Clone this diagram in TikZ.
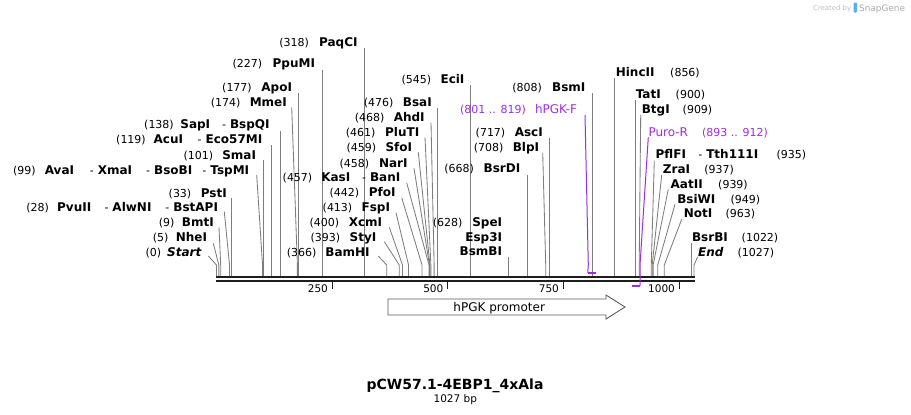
\documentclass[tikz,border=0pt]{standalone}
\usepackage{fontspec}
\setmainfont{DejaVu Sans}
\definecolor{linegray}{RGB}{125,125,125}
\definecolor{barc}{RGB}{30,30,30}
\definecolor{primer}{RGB}{160,40,240}
\definecolor{wmgray}{RGB}{190,190,190}
\definecolor{wmblue}{RGB}{90,175,235}
\newcommand{\hyn}[1]{-\hspace{4pt}{\fontsize{12}{14}\selectfont\bfseries #1}}
% slanted cut line: name, attach x, attach y, position
\newcommand{\slcut}[4]{%
  \coordinate (#1a) at (#2,#3);
  \coordinate (#1k) at ({216.5+0.465*#4},265);
  \coordinate (#1s) at ({216.5+0.465*#4},276);
  \draw[cutline] (#1a) -- (#1k) -- (#1s);}
% vertical cut line: name, attach y, position
\newcommand{\vtcut}[3]{%
  \coordinate (#1a) at ({216.5+0.465*#3},#2);
  \coordinate (#1s) at ({216.5+0.465*#3},276);
  \draw[cutline] (#1a) -- (#1s);}
\begin{document}
\begin{tikzpicture}[x=1pt,y=-1pt,
  num/.style={font=\fontsize{11}{13}\selectfont, anchor=base, inner sep=0pt},
  nm/.style={font=\fontsize{12}{14}\selectfont\bfseries, anchor=base, inner sep=0pt},
  nmi/.style={font=\fontsize{12}{14}\selectfont\bfseries\itshape, anchor=base, inner sep=0pt},
  prm/.style={font=\fontsize{12}{14}\selectfont, text=primer, anchor=base, inner sep=0pt},
  prmnum/.style={font=\fontsize{11}{13}\selectfont, text=primer, anchor=base, inner sep=0pt},
  ticklbl/.style={font=\fontsize{10.5}{12}\selectfont, anchor=base, inner sep=0pt},
  cutline/.style={draw=linegray, line width=0.85pt},
  primerline/.style={draw=primer, line width=1pt},
  barline/.style={draw=barc, line width=2pt},
]
\useasboundingbox (0,0) rectangle (911,415);

% ---------- cut site lines ----------
\slcut{c0}{208.3}{256}{0}
\slcut{c5}{213.3}{243.3}{5}
\slcut{c9}{219}{227.3}{9}
\slcut{c28}{224.3}{211.7}{28}
\vtcut{c33}{198.3}{33}
\slcut{c99}{256.7}{175}{99}
\vtcut{c101}{160}{101}
\vtcut{c119}{145}{119}
\vtcut{c138}{130.7}{138}
\slcut{c174}{291.7}{107.3}{174}
\vtcut{c177}{93.3}{177}
\vtcut{c227}{70}{227}
\vtcut{c318}{48.3}{318}
\slcut{c366}{378.3}{256}{366}
\slcut{c393}{384.3}{241.7}{393}
\slcut{c400}{389.3}{227.3}{400}
\slcut{c413}{396}{212.7}{413}
\slcut{c442}{401.7}{197.7}{442}
\slcut{c457}{406.7}{182.7}{457}
\slcut{c458}{414}{168.3}{458}
\slcut{c459}{418.3}{152.3}{459}
\slcut{c461}{425}{137.3}{461}
\slcut{c468}{431}{122.7}{468}
\vtcut{c476}{108.3}{476}
\vtcut{c545}{85}{545}
\vtcut{c628}{257.3}{628}
\vtcut{c668}{175}{668}
\slcut{c708}{542.7}{152.7}{708}
\vtcut{c717}{138.3}{717}
\vtcut{c808}{93.3}{808}
\vtcut{c856}{78.3}{856}
\vtcut{c900}{100}{900}
\slcut{c909}{640.7}{115}{909}
\slcut{c935}{654.3}{160.7}{935}
\slcut{c937}{661.7}{175}{937}
\slcut{c939}{668.3}{189.3}{939}
\slcut{c949}{675}{204.3}{949}
\slcut{c963}{681.7}{219.3}{963}
\vtcut{c1022}{243.3}{1022}
\slcut{c1027}{697.7}{256.7}{1027}

% ---------- sequence bar ----------
\coordinate (barL1) at (216,276.7);
\coordinate (barR1) at (695,276.7);
\coordinate (barL2) at (216,281.3);
\coordinate (barR2) at (695,281.3);
\draw[barline] (barL1) -- (barR1);
\draw[barline] (barL2) -- (barR2);

% ticks
\foreach \tx/\tl [count=\i] in {332.3/250, 447.7/500, 563.3/750, 679.3/1000}{
  \coordinate (tk\i a) at (\tx,282.3);
  \coordinate (tk\i b) at (\tx,288.5);
  \draw[draw=barc, line width=1.5pt] (tk\i a) -- (tk\i b);
  \node[ticklbl, anchor=base east] (tl\i) at (\tx-4.2,292.7) {\tl};
}

% ---------- primers ----------
\coordinate (pfA) at (585,115);
\coordinate (pfK) at (588.3,265);
\coordinate (pfM1) at (587.7,272.7);
\coordinate (pfM2) at (596,272.7);
\draw[primerline] (pfA) -- (pfK) -- (pfM1);
\draw[draw=primer, line width=2pt] (pfM1) -- (pfM2);

\coordinate (prA) at (648.3,137.3);
\coordinate (prK) at (640,265);
\coordinate (prM1) at (640,285.7);
\coordinate (prM2) at (631.7,285.7);
\draw[primerline] (prA) -- (prK) -- (prM1);
\draw[draw=primer, line width=2pt] (prM1) -- (prM2);

% ---------- feature ----------
\draw[draw=black!65, fill=white, line width=0.9pt]
  (388,299) -- (606,299) -- (606,295) -- (625,307) -- (606,319) -- (606,315) -- (388,315) -- cycle;
\node[font=\fontsize{12}{14}\selectfont, anchor=base, inner sep=0pt] (feat) at (499.2,311) {hPGK promoter};

% ---------- left labels ----------
\node[num] (l0a) at (153.3,256) {(0)};
\node[nmi] (l0b) at (184.3,256) {Start};
\node[num] (l5a) at (160.7,241.6) {(5)};
\node[nm] (l5b) at (191.5,241.6) {NheI};
\node[num] (l9a) at (166.7,226) {(9)};
\node[nm] (l9b) at (197.8,226) {BmtI};
\node[num] (l28a) at (37.7,211) {(28)};
\node[nm] (l28b) at (74.2,211) {PvuII};
\node[num] (l28c) at (128,211) {\hyn{AlwNI}};
\node[num] (l28d) at (191.7,211) {\hyn{BstAPI}};
\node[num] (l33a) at (180,197) {(33)};
\node[nm] (l33b) at (213.8,197) {PstI};
\node[num] (l99a) at (24.3,174.3) {(99)};
\node[nm] (l99b) at (59.5,174.3) {AvaI};
\node[num] (l99c) at (111,174.3) {\hyn{XmaI}};
\node[num] (l99d) at (169.2,174.3) {\hyn{BsoBI}};
\node[num] (l99e) at (225.8,174.3) {\hyn{TspMI}};
\node[num] (l101a) at (198.3,159.3) {(101)};
\node[nm] (l101b) at (239.2,159.3) {SmaI};
\node[num] (l119a) at (131,143.3) {(119)};
\node[nm] (l119b) at (168.3,143.3) {AcuI};
\node[num] (l119c) at (230,143.3) {\hyn{Eco57MI}};
\node[num] (l138a) at (159,128.6) {(138)};
\node[nm] (l138b) at (195.3,128.6) {SapI};
\node[num] (l138c) at (245.8,128.6) {\hyn{BspQI}};
\node[num] (l174a) at (225.7,106) {(174)};
\node[nm] (l174b) at (268.3,106) {MmeI};
\node[num] (l177a) at (237,91.6) {(177)};
\node[nm] (l177b) at (276.7,91.6) {ApoI};
\node[num] (l227a) at (247.3,67.6) {(227)};
\node[nm] (l227b) at (293.8,67.6) {PpuMI};
\node[num] (l318a) at (294.2,46.6) {(318)};
\node[nm] (l318b) at (338.3,46.6) {PaqCI};

% ---------- middle labels ----------
\node[num] (l366a) at (301.7,256) {(366)};
\node[nm] (l366b) at (347.5,256) {BamHI};
\node[num] (l393a) at (325.3,241) {(393)};
\node[nm] (l393b) at (363,241) {StyI};
\node[num] (l400a) at (324.3,226) {(400)};
\node[nm] (l400b) at (365.5,226) {XcmI};
\node[num] (l413a) at (337.5,211) {(413)};
\node[nm] (l413b) at (375.8,211) {FspI};
\node[num] (l442a) at (344.3,196.6) {(442)};
\node[nm] (l442b) at (382.2,196.6) {PfoI};
\node[num] (l457a) at (297.5,181.6) {(457)};
\node[nm] (l457b) at (335.8,181.6) {KasI};
\node[num] (l457c) at (381.2,181.6) {\hyn{BanI}};
\node[num] (l458a) at (354.3,167) {(458)};
\node[nm] (l458b) at (393.3,167) {NarI};
\node[num] (l459a) at (361.3,151) {(459)};
\node[nm] (l459b) at (398.8,151) {SfoI};
\node[num] (l461a) at (360.7,136) {(461)};
\node[nm] (l461b) at (402.2,136) {PluTI};
\node[num] (l468a) at (369.7,121) {(468)};
\node[nm] (l468b) at (409.2,121) {AhdI};
\node[num] (l476a) at (378.7,106) {(476)};
\node[nm] (l476b) at (417.3,106) {BsaI};
\node[num] (l545a) at (416.3,83.3) {(545)};
\node[nm] (l545b) at (452.5,83.3) {EciI};
\node[num] (l628a) at (447.7,226) {(628)};
\node[nm, anchor=base east] (l628b) at (502.3,226) {SpeI};
\node[nm, anchor=base east] (l628c) at (502.3,241) {Esp3I};
\node[nm, anchor=base east] (l628d) at (502.3,255.3) {BsmBI};
\node[num] (l668a) at (459.2,172.6) {(668)};
\node[nm] (l668b) at (502,172.6) {BsrDI};
\node[num] (l708a) at (488.7,151) {(708)};
\node[nm] (l708b) at (526,151) {BlpI};
\node[num] (l717a) at (490.5,136) {(717)};
\node[nm] (l717b) at (528.8,136) {AscI};
\node[num] (l808a) at (527.2,91) {(808)};
\node[nm] (l808b) at (568.8,91) {BsmI};
\node[prmnum] (pfa) at (493,113.6) {(801 .. 819)};
\node[prm] (pfb) at (556,113.6) {hPGK-F};

% ---------- right labels ----------
\node[nm] (r856a) at (635.2,76.6) {HincII};
\node[num] (r856b) at (685,76.6) {(856)};
\node[nm] (r900a) at (648.3,98.3) {TatI};
\node[num] (r900b) at (690.5,98.3) {(900)};
\node[nm] (r909a) at (655.8,113.6) {BtgI};
\node[num] (r909b) at (697.5,113.6) {(909)};
\node[prm] (pra) at (668.3,136) {Puro-R};
\node[prmnum] (prb) at (735,136) {(893 .. 912)};
\node[nm] (r935a) at (670.8,158.3) {PflFI};
\node[num] (r935b) at (728.3,158.3) {\hyn{Tth111I}};
\node[num] (r935c) at (791.3,158.3) {(935)};
\node[nm] (r937a) at (676.5,173.3) {ZraI};
\node[num] (r937b) at (719.2,173.3) {(937)};
\node[nm] (r939a) at (686.7,188.3) {AatII};
\node[num] (r939b) at (733,188.3) {(939)};
\node[nm] (r949a) at (696.3,203.3) {BsiWI};
\node[num] (r949b) at (745.3,203.3) {(949)};
\node[nm] (r963a) at (698,217.6) {NotI};
\node[num] (r963b) at (740.3,217.6) {(963)};
\node[nm] (r1022a) at (710,241.6) {BsrBI};
\node[num] (r1022b) at (760,241.6) {(1022)};
\node[nmi] (r1027a) at (710.8,256) {End};
\node[num] (r1027b) at (755.8,256) {(1027)};

% ---------- title ----------
\node[font=\fontsize{14}{16}\selectfont\bfseries, anchor=base, inner sep=0pt] (title) at (455,389.5) {pCW57.1-4EBP1\_4xAla};
\node[font=\fontsize{10.5}{12}\selectfont, anchor=base, inner sep=0pt] (size) at (455.3,402.5) {1027 bp};

% ---------- watermark ----------
\node[font=\fontsize{6.9}{8}\selectfont, text=wmgray, anchor=base west, inner sep=0pt] (wm1) at (813,10.2) {Created by};
\fill[wmblue, rounded corners=1pt] (853.5,2.5) rectangle (857,12.5);
\node[font=\fontsize{8.9}{10}\selectfont, text=wmgray!90!black, anchor=base west, inner sep=0pt] (wm2) at (859,11) {SnapGene};
\end{tikzpicture}
\end{document}
